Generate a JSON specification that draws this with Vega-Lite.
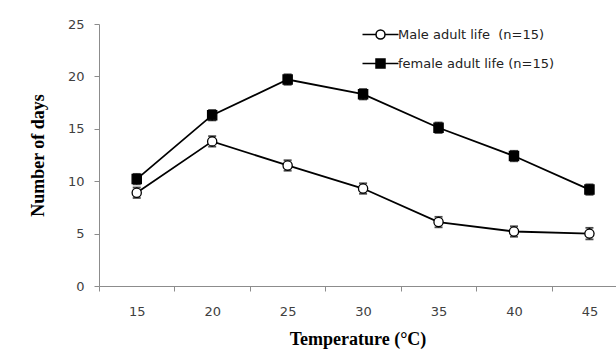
{
  "$schema": "https://vega.github.io/schema/vega-lite/v6.json",
  "width": 517,
  "height": 262,
  "autosize": {"type": "none"},
  "padding": {"left": 99, "top": 24, "right": 0, "bottom": 76},
  "background": "white",
  "config": {
    "view": {"stroke": null},
    "axis": {
      "labelFont": "DejaVu Sans",
      "labelFontSize": 13,
      "labelColor": "#404040",
      "titleFont": "Liberation Serif",
      "titleFontSize": 18,
      "titleFontWeight": "bold",
      "titleColor": "black",
      "domainColor": "#8c8c8c",
      "tickColor": "#8c8c8c",
      "tickSize": 5,
      "grid": false
    },
    "legend": {
      "symbolSize": 100,
      "labelFont": "DejaVu Sans",
      "labelFontSize": 13,
      "labelColor": "#222",
      "labelOffset": 11,
      "rowPadding": 14,
      "padding": 0
    }
  },
  "data": {
    "values": [
      {"temp": 15, "series": "Male adult life  (n=15)", "mean": 8.9, "err": 0.5},
      {"temp": 20, "series": "Male adult life  (n=15)", "mean": 13.8, "err": 0.5},
      {"temp": 25, "series": "Male adult life  (n=15)", "mean": 11.5, "err": 0.5},
      {"temp": 30, "series": "Male adult life  (n=15)", "mean": 9.3, "err": 0.5},
      {"temp": 35, "series": "Male adult life  (n=15)", "mean": 6.1, "err": 0.5},
      {"temp": 40, "series": "Male adult life  (n=15)", "mean": 5.2, "err": 0.5},
      {"temp": 45, "series": "Male adult life  (n=15)", "mean": 5.0, "err": 0.55},
      {"temp": 15, "series": "female adult life (n=15)", "mean": 10.2, "err": 0.5},
      {"temp": 20, "series": "female adult life (n=15)", "mean": 16.3, "err": 0.5},
      {"temp": 25, "series": "female adult life (n=15)", "mean": 19.7, "err": 0.5},
      {"temp": 30, "series": "female adult life (n=15)", "mean": 18.3, "err": 0.5},
      {"temp": 35, "series": "female adult life (n=15)", "mean": 15.1, "err": 0.5},
      {"temp": 40, "series": "female adult life (n=15)", "mean": 12.4, "err": 0.5},
      {"temp": 45, "series": "female adult life (n=15)", "mean": 9.2, "err": 0.5}
    ]
  },
  "encoding": {
    "x": {
      "field": "temp",
      "type": "quantitative",
      "scale": {"domain": [12.5, 46.76], "nice": false, "zero": false},
      "axis": {
        "title": "Temperature (°C)",
        "values": [15, 20, 25, 30, 35, 40, 45],
        "tickOffset": -37.7,
        "labelOffset": 37.7,
        "labelPadding": 14,
        "titlePadding": 12
      }
    },
    "y": {
      "field": "mean",
      "type": "quantitative",
      "scale": {"domain": [0, 25], "nice": false},
      "axis": {
        "title": "Number of days",
        "values": [0, 5, 10, 15, 20, 25],
        "labelPadding": 10,
        "titlePadding": 20
      }
    }
  },
  "layer": [
    {
      "mark": {"type": "line", "color": "black", "strokeWidth": 1.8},
      "encoding": {"detail": {"field": "series"}}
    },
    {
      "mark": {"type": "errorbar", "color": "black", "thickness": 1.5, "ticks": {"size": 8, "thickness": 1.8, "color": "black"}},
      "encoding": {"yError": {"field": "err"}}
    },
    {
      "mark": {"type": "point", "stroke": "black", "strokeWidth": 1.3, "size": 85, "opacity": 1},
      "encoding": {
        "shape": {
          "field": "series",
          "type": "nominal",
          "scale": {"domain": ["Male adult life  (n=15)", "female adult life (n=15)"], "range": ["circle", "square"]},
          "legend": null
        },
        "fill": {
          "field": "series",
          "type": "nominal",
          "scale": {"domain": ["Male adult life  (n=15)", "female adult life (n=15)"], "range": ["white", "black"]},
          "legend": null
        }
      }
    },
    {
      "transform": [{"filter": "false"}],
      "mark": {"type": "point", "stroke": "black", "strokeWidth": 1.5, "opacity": 1},
      "encoding": {
        "shape": {
          "field": "series",
          "type": "nominal",
          "scale": {
            "domain": ["Male adult life  (n=15)", "female adult life (n=15)"],
            "range": [
              "M-3.6,0H-0.9M0.9,0H3.6M-0.9,0A0.9,0.9,0,1,1,0.9,0A0.9,0.9,0,1,1,-0.9,0Z",
              "M-3.6,0H3.6M-0.9,-0.9H0.9V0.9H-0.9Z"
            ]
          },
          "legend": {
            "title": null,
            "orient": "none",
            "legendX": 275,
            "legendY": 4,
            "labelExpr": "replace(datum.label, '  ', ' \u00a0')"
          }
        },
        "fill": {
          "field": "series",
          "type": "nominal",
          "scale": {"domain": ["Male adult life  (n=15)", "female adult life (n=15)"], "range": ["white", "black"]},
          "legend": {
            "title": null,
            "orient": "none",
            "legendX": 275,
            "legendY": 4,
            "labelExpr": "replace(datum.label, '  ', ' \u00a0')"
          }
        }
      }
    }
  ],
  "resolve": {"scale": {"shape": "independent", "fill": "independent"}}
}
